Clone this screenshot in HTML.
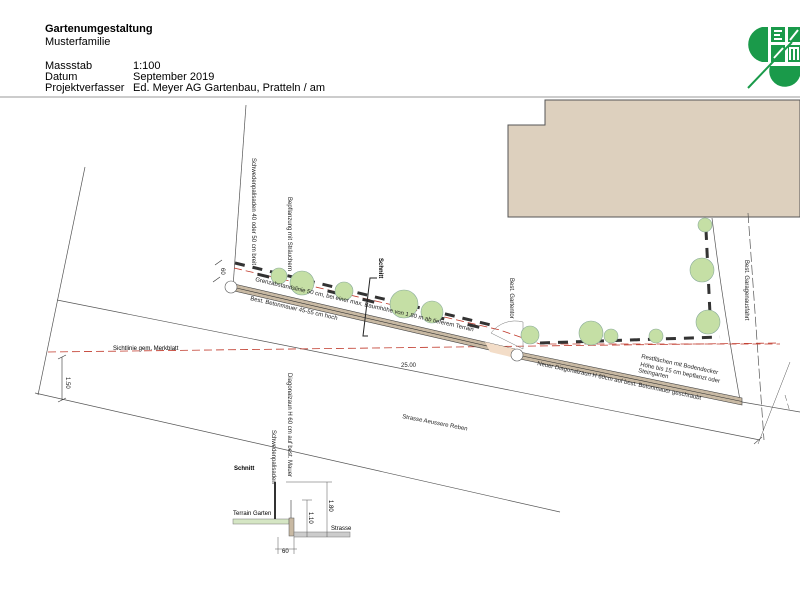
<!DOCTYPE html>
<html><head><meta charset="utf-8"><style>
body{margin:0;background:#fff;}
svg{display:block;font-family:"Liberation Sans",sans-serif;}
</style></head><body>
<svg width="800" height="600" viewBox="0 0 800 600" xmlns="http://www.w3.org/2000/svg">
<rect width="800" height="600" fill="#fff"/>
<!-- header -->
<text x="45" y="32" font-size="11" font-weight="bold">Gartenumgestaltung</text>
<text x="45" y="45" font-size="11">Musterfamilie</text>
<text x="45" y="69" font-size="11">Massstab</text>
<text x="133" y="69" font-size="11">1:100</text>
<text x="45" y="80" font-size="11">Datum</text>
<text x="133" y="80" font-size="11">September 2019</text>
<text x="45" y="91" font-size="11">Projektverfasser</text>
<text x="133" y="91" font-size="11">Ed. Meyer AG Gartenbau, Pratteln / am</text>
<line x1="0" y1="97" x2="800" y2="97" stroke="#999" stroke-width="1"/>
<!-- logo -->
<g fill="#1a9a4a">
<path d="M768 27 L768 62 L762 62 A18 18 0 0 1 762 27 Z"/>
<rect x="771" y="27" width="14" height="15"/><rect x="788" y="27" width="12" height="15"/>
<rect x="771" y="45" width="14" height="17"/><rect x="788" y="45" width="12" height="17"/>
<path d="M770 66 L800 66 L800 76 A14 14 0 0 1 770 66 Z"/>
</g>
<g stroke="#fff" stroke-width="2" fill="none"><path d="M774 31 h8 M774 35 h6 M774 39 h8 M790 40 L798 30 M774 58 L783 48 M790 60 v-12 h8 v12 M794 48 v12"/></g>
<line x1="748" y1="88" x2="792" y2="42" stroke="#1a9a4a" stroke-width="2"/>
<!-- building -->
<path d="M545 100 L800 100 L800 217 L508 217 L508 125 L545 125 Z" fill="#ddd0be" stroke="#555" stroke-width="1"/>
<!-- plot lines -->
<g stroke="#555" stroke-width="0.7" fill="none">
<line x1="85" y1="167" x2="38" y2="395"/>
<line x1="246" y1="105" x2="233" y2="287"/>
<line x1="57" y1="300" x2="760" y2="440"/>
<line x1="35" y1="393" x2="560" y2="512"/>
<line x1="742" y1="402" x2="800" y2="412"/>
<path d="M712 218 Q722 300 740 400"/>
<line x1="748" y1="213" x2="764" y2="440" stroke-dasharray="10,3"/>
<line x1="790" y1="362" x2="758" y2="444" stroke-width="0.5"/>
<line x1="785" y1="395" x2="790" y2="412" stroke-width="0.5" stroke-dasharray="6,3"/>
<line x1="754" y1="444" x2="762" y2="437"/>
</g>
<!-- red dashed lines -->
<g stroke="#c0392b" stroke-width="0.8" fill="none" stroke-dasharray="8,4">
<line x1="48" y1="352" x2="780" y2="343"/>
<polyline points="234,268 500,330 540,344 780,344"/>
</g>
<text x="113" y="350" font-size="6">Sichtlinie gem. Merkblatt</text>
<!-- walls -->
<g>
<polygon points="230,283 515,349 515,356 230,290" fill="#c8b9a3" stroke="#444" stroke-width="0.6"/>
<line x1="230" y1="286.5" x2="515" y2="352.5" stroke="#333" stroke-width="0.6"/>
<polygon points="515,351 742,398 742,405 515,358" fill="#c8b9a3" stroke="#444" stroke-width="0.6"/>
<line x1="515" y1="354.5" x2="742" y2="401.5" stroke="#333" stroke-width="0.6"/>
<polygon points="485,342 515,349 515,358 490,352" fill="#f3ddc8"/>
</g>
<circle cx="231" cy="287" r="6" fill="#fff" stroke="#555" stroke-width="0.6"/>
<circle cx="517" cy="355" r="6" fill="#fff" stroke="#555" stroke-width="0.6"/>
<path d="M491 333 A30 30 0 0 1 523 322 L523 349 Z" fill="none" stroke="#777" stroke-width="0.5"/>
<!-- fence dashes -->
<g stroke="#333" stroke-width="3" fill="none" stroke-dasharray="10,8">
<line x1="235" y1="263" x2="495" y2="326"/>
<line x1="240" y1="270" x2="495" y2="331" stroke-dasharray="0,18,12,6"/>
<line x1="540" y1="343" x2="720" y2="337"/>
<line x1="706" y1="230" x2="711" y2="335"/>
</g>
<!-- trees -->
<g fill="#c5dfa5" stroke="#8a9" stroke-width="0.6">
<circle cx="279" cy="276" r="8"/><circle cx="302" cy="283" r="12"/><circle cx="344" cy="291" r="9"/>
<circle cx="404" cy="304" r="14"/><circle cx="432" cy="312" r="11"/><circle cx="530" cy="335" r="9"/>
<circle cx="591" cy="333" r="12"/><circle cx="611" cy="336" r="7"/><circle cx="656" cy="336" r="7"/>
<circle cx="708" cy="322" r="12"/><circle cx="702" cy="270" r="12"/><circle cx="705" cy="225" r="7"/>
</g>
<!-- schnitt marker -->
<path d="M377 278 L370 278 L363 336 L368 336" fill="none" stroke="#222" stroke-width="1"/>
<text transform="translate(379,258) rotate(90)" font-size="6" font-weight="bold">Schnitt</text>
<!-- labels rotated -->
<g font-size="6" fill="#222">
<text transform="translate(252,158) rotate(90)">Schwedenpalisaden 40 oder 50 cm breit</text>
<text transform="translate(288,197) rotate(90)">Bepflanzung mit Sträuchern</text>
<text transform="translate(510,278) rotate(90)">Best. Gartentor</text>
<text transform="translate(745,260) rotate(90)">Best. Garagenausfahrt</text>
<text transform="translate(255,281) rotate(13)">Grenzabstandslinie 50 cm, bei einer max. Baumhöhe von 1.80 m ab tieferem Terrain</text>
<text transform="translate(250,300) rotate(13)">Best. Betonmauer 45-55 cm hoch</text>
<text transform="translate(537,365) rotate(12)">Neuer Diagonalzaun H 60cm auf best. Betonmauer geschraubt</text>
<text transform="translate(641,358) rotate(12)">Restflächen mit Bodendecker</text>
<text transform="translate(640,366) rotate(12)">Höhe bis 15 cm bepflanzt oder</text>
<text transform="translate(638,372) rotate(12)">Steingarten</text>
<text transform="translate(402,418) rotate(11)">Strasse Aeussere Reben</text>
<text x="401" y="367">25.00</text>
<text transform="translate(221,268) rotate(90)">60</text>
<text transform="translate(66,377) rotate(90)">1.50</text>
<text transform="translate(288,373) rotate(90)">Diagonalzaun H 60 cm auf best. Mauer</text>
<text transform="translate(272,430) rotate(90)">Schwedenpalisaden</text>
</g>
<g stroke="#333" stroke-width="0.6"><line x1="215" y1="265" x2="222" y2="260"/><line x1="213" y1="282" x2="220" y2="277"/>
<line x1="58" y1="359" x2="66" y2="355"/><line x1="58" y1="402" x2="66" y2="398"/><line x1="62" y1="357" x2="62" y2="400"/></g>
<!-- section -->
<text x="234" y="470" font-size="6" font-weight="bold">Schnitt</text>
<text x="233" y="515" font-size="6">Terrain Garten</text>
<rect x="233" y="519" width="56" height="5" fill="#d5e6c4" stroke="#777" stroke-width="0.5"/>
<rect x="274" y="482" width="2" height="37" fill="#333"/>
<rect x="289" y="518" width="5" height="18" fill="#c8b9a3" stroke="#555" stroke-width="0.5"/>
<line x1="291" y1="500" x2="291" y2="518" stroke="#333" stroke-width="0.6"/>
<rect x="294" y="532" width="56" height="5" fill="#ccc" stroke="#777" stroke-width="0.5"/>
<text x="331" y="530" font-size="6">Strasse</text>
<g stroke="#555" stroke-width="0.5" fill="none">
<line x1="286" y1="482" x2="332" y2="482"/><line x1="327" y1="482" x2="327" y2="537"/>
<line x1="302" y1="500" x2="312" y2="500"/><line x1="307" y1="500" x2="307" y2="537"/>
<line x1="275" y1="549" x2="297" y2="549"/><line x1="278" y1="537" x2="278" y2="554"/><line x1="294" y1="537" x2="294" y2="554"/>
</g>
<g font-size="6"><text transform="translate(329,500) rotate(90)">1.80</text><text transform="translate(309,512) rotate(90)">1.10</text><text x="282" y="553">60</text></g>
</svg>
</body></html>
